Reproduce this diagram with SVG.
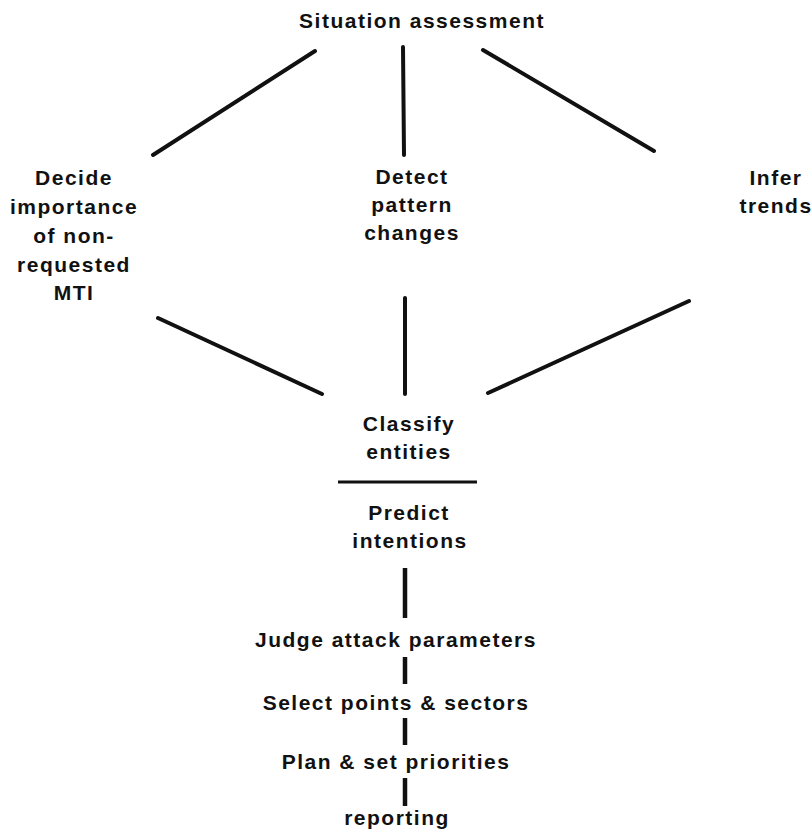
<svg xmlns="http://www.w3.org/2000/svg" width="812" height="835" viewBox="0 0 812 835">
<style>
  text { font-family: "Liberation Sans", Arial, sans-serif; font-weight: bold; font-size: 21px; letter-spacing: 1.5px; fill: #111; text-anchor: middle; }
  .c line { stroke: #111; stroke-width: 4; stroke-linecap: round; }
  .c line.v { stroke-width: 4.5; stroke-linecap: butt; }
  .c line.hr { stroke-width: 3; stroke-linecap: butt; }
</style>
<rect width="812" height="835" fill="#fff"/>
<g id="connectors" class="c">
  <line x1="315" y1="51" x2="153" y2="155"/>
  <line x1="403" y1="47" x2="404" y2="155"/>
  <line x1="483" y1="50" x2="654" y2="151"/>
  <line x1="158" y1="318" x2="322" y2="394"/>
  <line x1="405" y1="298" x2="405" y2="394"/>
  <line x1="689" y1="301" x2="488" y2="393"/>
  <line class="hr" x1="338" y1="482" x2="477" y2="482"/>
  <line class="v" x1="405" y1="568" x2="405" y2="618"/>
  <line class="v" x1="405" y1="657" x2="405" y2="684"/>
  <line class="v" x1="405" y1="718" x2="405" y2="745"/>
  <line class="v" x1="405" y1="778" x2="405" y2="806"/>
</g>
<g id="situation-assessment"><text x="422" y="28">Situation assessment</text></g>
<g id="decide-importance">
  <text x="74" y="185">Decide</text>
  <text x="74" y="214">importance</text>
  <text x="74" y="243">of non-</text>
  <text x="74" y="272">requested</text>
  <text x="74" y="300">MTI</text>
</g>
<g id="detect-pattern-changes">
  <text x="412" y="184">Detect</text>
  <text x="412" y="212">pattern</text>
  <text x="412" y="240">changes</text>
</g>
<g id="infer-trends">
  <text x="776" y="185">Infer</text>
  <text x="776" y="213">trends</text>
</g>
<g id="classify-entities">
  <text x="409" y="431">Classify</text>
  <text x="409" y="459">entities</text>
</g>
<g id="predict-intentions">
  <text x="409" y="520">Predict</text>
  <text x="410" y="548">intentions</text>
</g>
<g id="judge-attack-parameters"><text x="396" y="647">Judge attack parameters</text></g>
<g id="select-points-sectors"><text x="396" y="710">Select points &amp; sectors</text></g>
<g id="plan-set-priorities"><text x="396" y="769">Plan &amp; set priorities</text></g>
<g id="reporting"><text x="397" y="825">reporting</text></g>
</svg>
